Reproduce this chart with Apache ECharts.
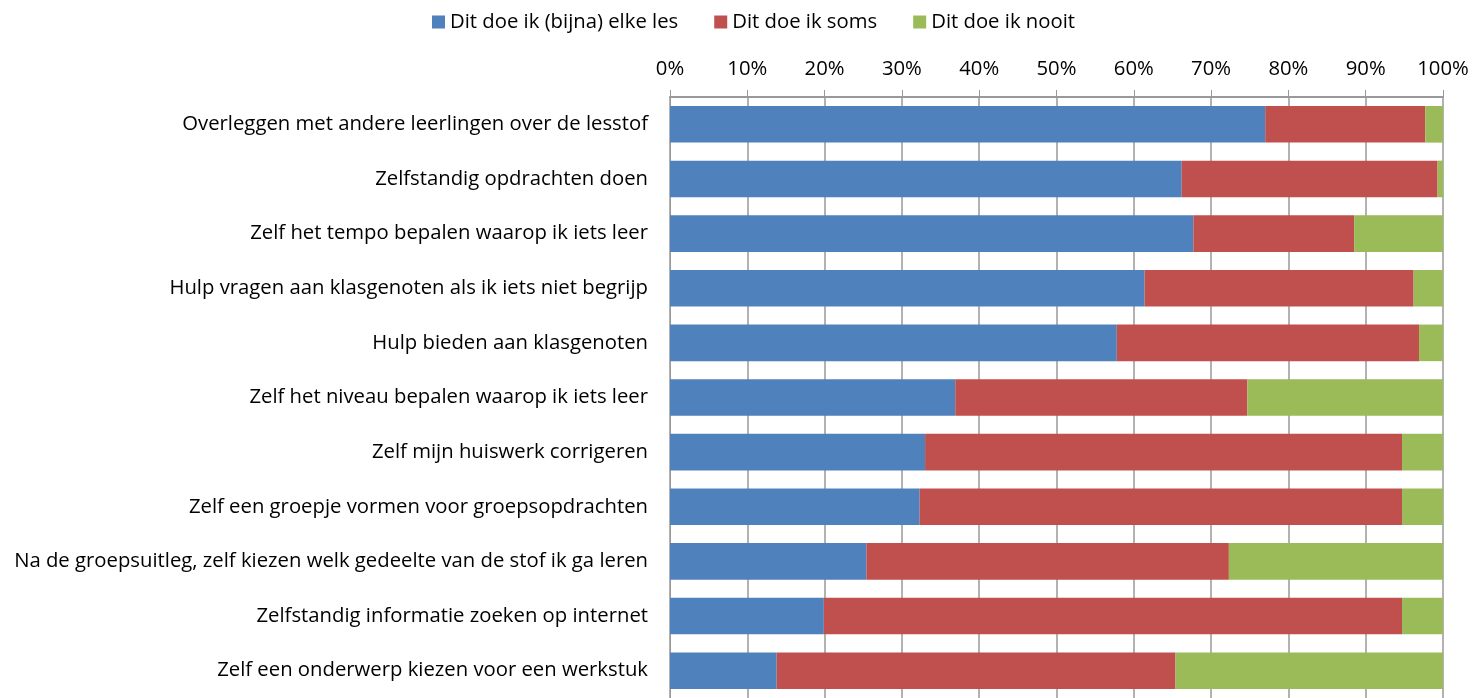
<!DOCTYPE html>
<html>
<head>
<meta charset="utf-8">
<script src="https://cdn.jsdelivr.net/npm/echarts@6/dist/echarts.min.js"></script>
<style>html,body{margin:0;padding:0;background:#fff;}#c{width:1479px;height:698px;}</style>
</head>
<body>
<div id="c"></div>
<script>
const categories = [
  "Overleggen met andere leerlingen over de lesstof",
  "Zelfstandig opdrachten doen",
  "Zelf het tempo bepalen waarop ik iets leer",
  "Hulp vragen aan klasgenoten als ik iets niet begrijp",
  "Hulp bieden aan klasgenoten",
  "Zelf het niveau bepalen waarop ik iets leer",
  "Zelf mijn huiswerk corrigeren",
  "Zelf een groepje vormen voor groepsopdrachten",
  "Na de groepsuitleg, zelf kiezen welk gedeelte van de stof ik ga leren",
  "Zelfstandig informatie zoeken op internet",
  "Zelf een onderwerp kiezen voor een werkstuk"
];
const seriesNames = ["Dit doe ik (bijna) elke les", "Dit doe ik soms", "Dit doe ik nooit"];
const elkeLes = [77.0, 66.2, 67.7, 61.4, 57.8, 36.9, 33.0, 32.3, 25.4, 19.9, 13.8];
const soms    = [20.7, 33.1, 20.8, 34.8, 39.1, 37.8, 61.7, 62.4, 46.9, 74.8, 51.6];
const nooit   = [2.3, 0.7, 11.5, 3.8, 3.1, 25.3, 5.3, 5.3, 27.7, 5.3, 34.6];
const xTicks = [0, 10, 20, 30, 40, 50, 60, 70, 80, 90, 100];
const colors = ["#4F81BD", "#C0504D", "#9BBB59"];

const FONT = "Open Sans";
const FS = 20.3;
const chart = echarts.init(document.getElementById('c'), null, {renderer: 'canvas'});
const mk = (name, data, i) => ({
  name: name, type: 'bar', stack: 'total', data: data,
  barCategoryGap: '33%',
  itemStyle: {color: colors[i]},
  emphasis: {disabled: true}
});
chart.setOption({
  animation: false,
  textStyle: {fontFamily: FONT},
  legend: {
    top: 7, left: 427,
    itemWidth: 13, itemHeight: 13, itemGap: 36,
    icon: 'rect',
    textStyle: {fontFamily: FONT, fontSize: FS, color: '#000'},
    data: seriesNames
  },
  grid: {left: 670, right: 36, top: 97, bottom: -2, containLabel: false},
  xAxis: {
    type: 'value', position: 'top', min: 0, max: 100, interval: 10,
    axisLine: {show: true, lineStyle: {color: '#999', width: 2}},
    axisTick: {show: true, length: 7, lineStyle: {color: '#999'}},
    axisLabel: {formatter: v => xTicks.includes(v) ? v + '%' : '', fontFamily: FONT, fontSize: FS, color: '#000', margin: 18},
    splitLine: {show: true, lineStyle: {color: '#999', width: 1.5}}
  },
  yAxis: {
    type: 'category', inverse: true, data: categories,
    axisLine: {show: true, lineStyle: {color: '#999'}},
    axisTick: {show: false},
    axisLabel: {fontFamily: FONT, fontSize: FS, color: '#000', margin: 22, padding: [3, 0, 0, 0]}
  },
  series: [mk(seriesNames[0], elkeLes, 0), mk(seriesNames[1], soms, 1), mk(seriesNames[2], nooit, 2)]
});
</script>
</body>
</html>
